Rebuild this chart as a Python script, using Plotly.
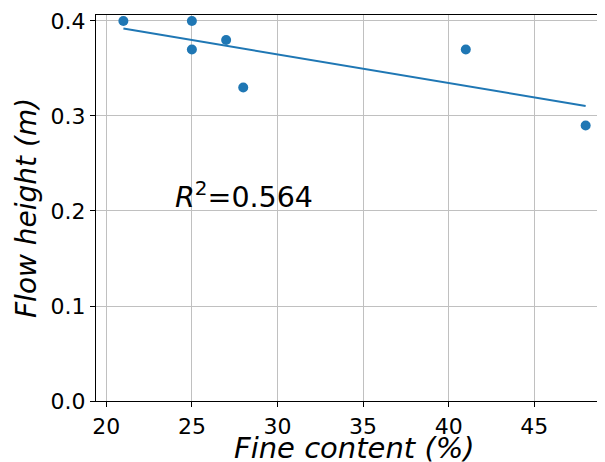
import plotly.graph_objects as go

fine_content = [21, 25, 25, 27, 28, 41, 48]
flow_height = [0.40, 0.40, 0.37, 0.38, 0.33, 0.37, 0.29]
fit_x = [21, 48]
fit_y = [0.392, 0.3105]
r2_label = "<i>R</i><sup>2</sup>=0.564"
x_ticks = [20, 25, 30, 35, 40, 45]
y_ticks = [0.0, 0.1, 0.2, 0.3, 0.4]
x_title = "<i>Fine content (%)</i>"
y_title = "<i>Flow height (m)</i>"

BLUE = "#1f77b4"
FONT = "DejaVu Sans"

# the page body has an 8px margin; size the figure so it fits the 605x462 window
OFF = 8
W, H = 605 - OFF, 462 - OFF
L, R, T, B = 96 - OFF, 0, 15 - OFF, 61
PW, PH = W - L - R, H - T - B


def paper_xy(px, py):
    """page-pixel position -> paper coordinates"""
    fx, fy = px - OFF, py - OFF
    return (fx - L) / PW, (H - B - fy) / PH


fig = go.Figure()
fig.add_trace(go.Scatter(x=fit_x, y=fit_y, mode="lines",
                         line=dict(color=BLUE, width=2), showlegend=False))
fig.add_trace(go.Scatter(x=fine_content, y=flow_height, mode="markers",
                         marker=dict(color=BLUE, size=10, line=dict(width=0)),
                         showlegend=False))

fig.add_annotation(x=23.9, y=0.2165, xref="x", yref="y", text=r2_label,
                   showarrow=False, xanchor="left", yanchor="middle",
                   font=dict(family=FONT, size=28.5, color="black"))
ax, ay = paper_xy(354, 448)
fig.add_annotation(x=ax, y=ay, xref="paper", yref="paper", text=x_title,
                   showarrow=False, xanchor="center", yanchor="middle", borderpad=0,
                   font=dict(family=FONT, size=29, color="black"))
bx, by = paper_xy(26, 208)
fig.add_annotation(x=bx, y=by, xref="paper", yref="paper", text=y_title,
                   showarrow=False, xanchor="center", yanchor="middle", textangle=-90,
                   borderpad=0, font=dict(family=FONT, size=28, color="black"))

fig.update_layout(
    width=W, height=H,
    margin=dict(l=L, r=R, t=T, b=B, autoexpand=False),
    paper_bgcolor="white", plot_bgcolor="white",
    font=dict(family=FONT, color="black", size=22),
    xaxis=dict(range=[19.4, 49.13], tickvals=x_ticks, ticktext=[str(v) for v in x_ticks],
               showgrid=True, gridcolor="#c0c0c0", gridwidth=1.3,
               showline=True, linecolor="black", linewidth=1.2, mirror=True,
               ticks="outside", ticklen=5, tickwidth=1.2, tickcolor="black",
               zeroline=False, automargin=False,
               tickfont=dict(family=FONT, size=22, color="black")),
    yaxis=dict(range=[0, 0.4063], tickvals=y_ticks, ticktext=["0.0", "0.1", "0.2", "0.3", "0.4"],
               showgrid=True, gridcolor="#c0c0c0", gridwidth=1.3,
               showline=True, linecolor="black", linewidth=1.2, mirror=False,
               ticks="outside", ticklen=5, tickwidth=1.2, tickcolor="black",
               zeroline=False, automargin=False,
               tickfont=dict(family=FONT, size=22, color="black")),
)

fig.write_html("out.html")
